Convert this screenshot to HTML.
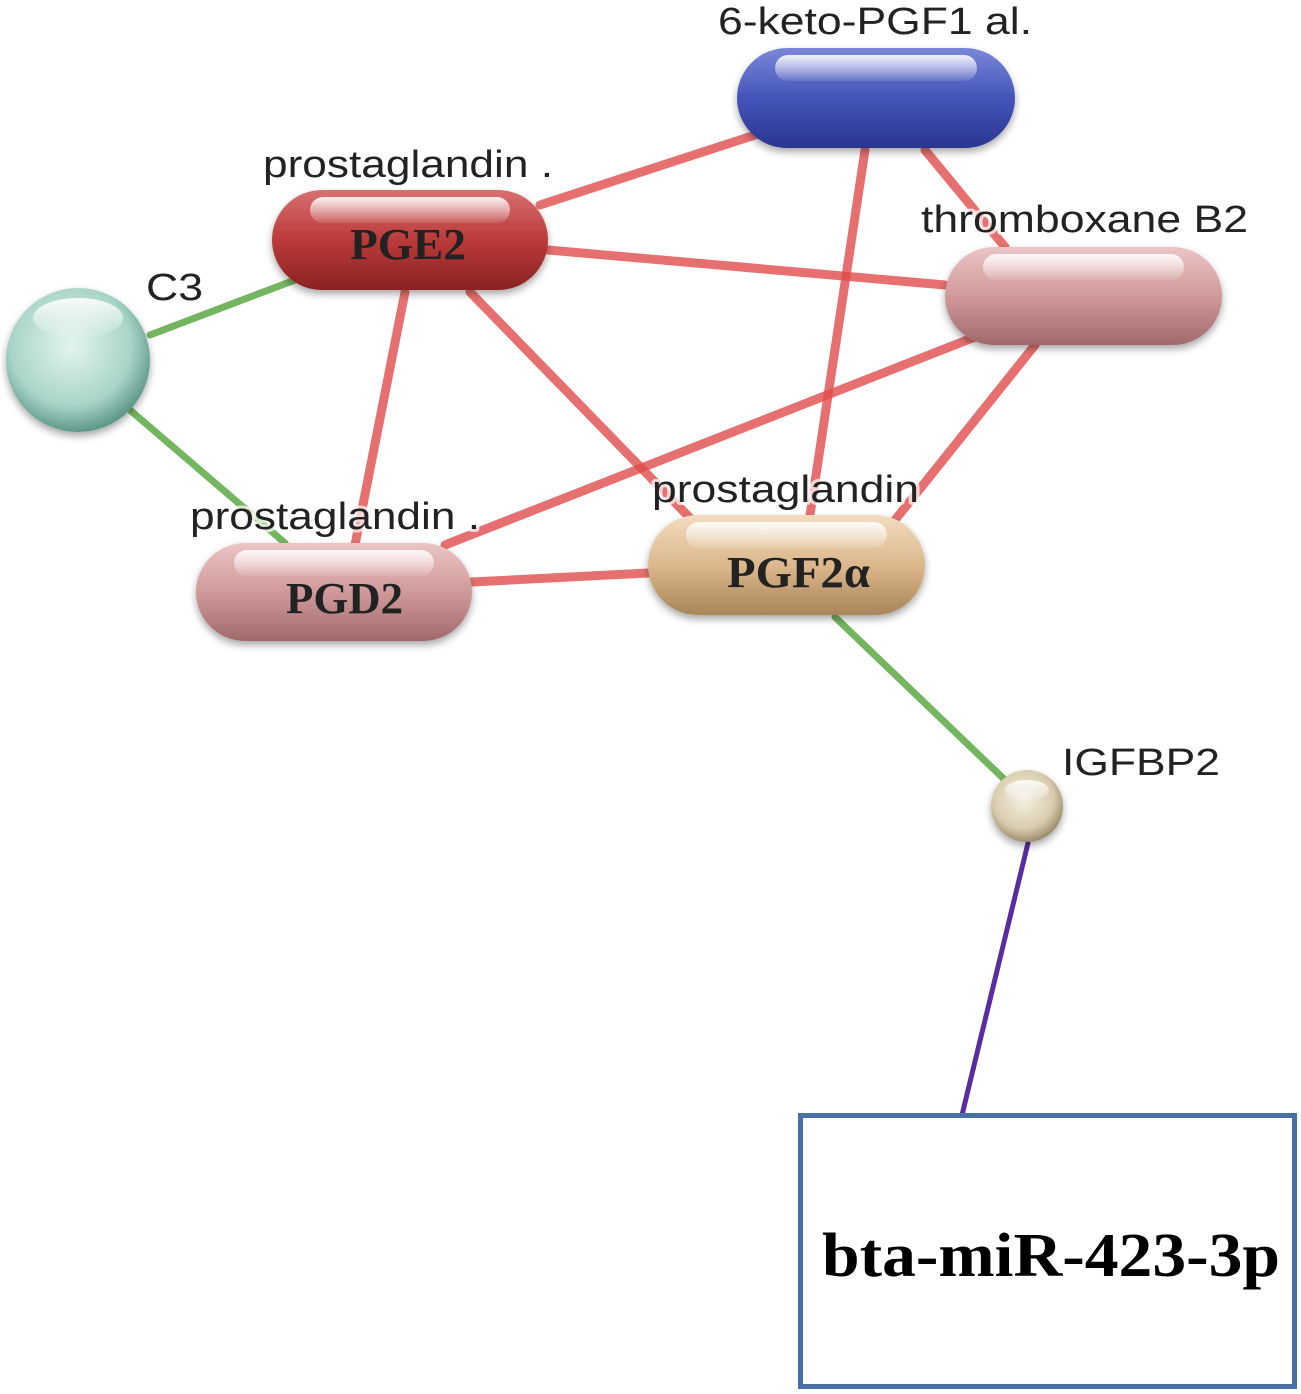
<!DOCTYPE html>
<html><head><meta charset="utf-8"><style>
html,body{margin:0;padding:0;background:#fff}
svg{display:block}
</style></head><body>
<svg width="1301" height="1394" viewBox="0 0 1301 1394" xmlns="http://www.w3.org/2000/svg">
<defs>
<linearGradient id="gBlue" x1="0" y1="0" x2="0" y2="1"><stop offset="0" stop-color="#7a86d8"/><stop offset="0.5" stop-color="#4454b8"/><stop offset="1" stop-color="#2a3590"/></linearGradient>
<linearGradient id="gRed" x1="0" y1="0" x2="0" y2="1"><stop offset="0" stop-color="#d87070"/><stop offset="0.5" stop-color="#bb3a3a"/><stop offset="1" stop-color="#8a2222"/></linearGradient>
<linearGradient id="gPink" x1="0" y1="0" x2="0" y2="1"><stop offset="0" stop-color="#ecc4c4"/><stop offset="0.5" stop-color="#d09a9a"/><stop offset="1" stop-color="#a06a6a"/></linearGradient>
<linearGradient id="gTan" x1="0" y1="0" x2="0" y2="1"><stop offset="0" stop-color="#f2dcc0"/><stop offset="0.5" stop-color="#dcb88c"/><stop offset="1" stop-color="#a8865a"/></linearGradient>
<linearGradient id="gShine" x1="0" y1="0" x2="0" y2="1"><stop offset="0" stop-color="#fff" stop-opacity="0.9"/><stop offset="1" stop-color="#fff" stop-opacity="0.1"/></linearGradient>
<radialGradient id="gC3" cx="0.45" cy="0.4" r="0.6"><stop offset="0" stop-color="#e4f4f0"/><stop offset="0.7" stop-color="#a8d4c8"/><stop offset="1" stop-color="#5e9888"/></radialGradient>
<radialGradient id="gIG" cx="0.45" cy="0.4" r="0.6"><stop offset="0" stop-color="#f6f0e2"/><stop offset="0.7" stop-color="#d8ccae"/><stop offset="1" stop-color="#9c8e6c"/></radialGradient>
<filter id="sh" x="-20%" y="-20%" width="140%" height="150%"><feDropShadow dx="0" dy="4" stdDeviation="4" flood-color="#000" flood-opacity="0.35"/></filter>
</defs>
<g stroke-linecap="round" fill="none">
<g stroke="#e04c4c" stroke-opacity="0.8" stroke-width="9">
<line x1="540" y1="205" x2="755" y2="135"/>
<line x1="548" y1="250" x2="945" y2="285"/>
<line x1="405" y1="292" x2="355" y2="545"/>
<line x1="470" y1="292" x2="690" y2="518"/>
<line x1="865" y1="150" x2="810" y2="515"/>
<line x1="925" y1="150" x2="1005" y2="247"/>
<line x1="980" y1="335" x2="445" y2="545"/>
<line x1="1035" y1="345" x2="895" y2="520"/>
<line x1="472" y1="582" x2="648" y2="573"/>
</g>
<g stroke="#74b560" stroke-width="7">
<line x1="150" y1="335" x2="295" y2="280"/>
<line x1="130" y1="410" x2="285" y2="543"/>
<line x1="835" y1="617" x2="1005" y2="780"/>
</g>
<line x1="1028" y1="843" x2="962" y2="1115" stroke="#5b2ca0" stroke-width="5"/>
</g>
<g filter="url(#sh)">
<rect x="737" y="48" width="278" height="100" rx="50" fill="url(#gBlue)"/>
<rect x="272" y="190" width="276" height="100" rx="50" fill="url(#gRed)"/>
<rect x="945" y="247" width="277" height="98" rx="49" fill="url(#gPink)"/>
<rect x="196" y="543" width="276" height="98" rx="49" fill="url(#gPink)"/>
<rect x="648" y="515" width="277" height="100" rx="50" fill="url(#gTan)"/>
<circle cx="78" cy="360" r="72" fill="url(#gC3)"/>
<circle cx="1027" cy="806" r="36" fill="url(#gIG)"/>
</g>
<g fill="url(#gShine)">
<rect x="775" y="55" width="202" height="26" rx="13"/>
<rect x="310" y="197" width="200" height="26" rx="13"/>
<rect x="983" y="254" width="201" height="26" rx="13"/>
<rect x="234" y="550" width="200" height="26" rx="13"/>
<rect x="686" y="522" width="201" height="26" rx="13"/>
<ellipse cx="78" cy="318" rx="45" ry="20"/>
<ellipse cx="1027" cy="790" rx="22" ry="10"/>
</g>
<g font-family="Liberation Sans, sans-serif" font-size="38" fill="#222" stroke="#fff" stroke-opacity="0.7" stroke-width="6" paint-order="stroke" stroke-linejoin="round">
<text x="718" y="34" textLength="314" lengthAdjust="spacingAndGlyphs">6-keto-PGF1 al.</text>
<text x="263" y="177" textLength="290" lengthAdjust="spacingAndGlyphs">prostaglandin .</text>
<text x="921" y="232" textLength="327" lengthAdjust="spacingAndGlyphs">thromboxane B2</text>
<text x="146" y="300" textLength="57" lengthAdjust="spacingAndGlyphs">C3</text>
<text x="190" y="529" textLength="290" lengthAdjust="spacingAndGlyphs">prostaglandin .</text>
<text x="652" y="502" textLength="267" lengthAdjust="spacingAndGlyphs">prostaglandin</text>
<text x="1062" y="775" textLength="158" lengthAdjust="spacingAndGlyphs">IGFBP2</text>
</g>
<g font-family="Liberation Serif, serif" font-weight="bold" font-size="44" fill="#222">
<text x="350" y="259" textLength="116" lengthAdjust="spacingAndGlyphs">PGE2</text>
<text x="286" y="613" textLength="117" lengthAdjust="spacingAndGlyphs">PGD2</text>
<text x="727" y="587" textLength="143" lengthAdjust="spacingAndGlyphs">PGF2α</text>
</g>
<rect x="800.5" y="1115.5" width="494" height="271" fill="#fff" stroke="#4a6fa5" stroke-width="5"/>
<text x="822" y="1276" textLength="458" lengthAdjust="spacingAndGlyphs" font-family="Liberation Serif, serif" font-weight="bold" font-size="62" fill="#000">bta-miR-423-3p</text>
</svg>
</body></html>
